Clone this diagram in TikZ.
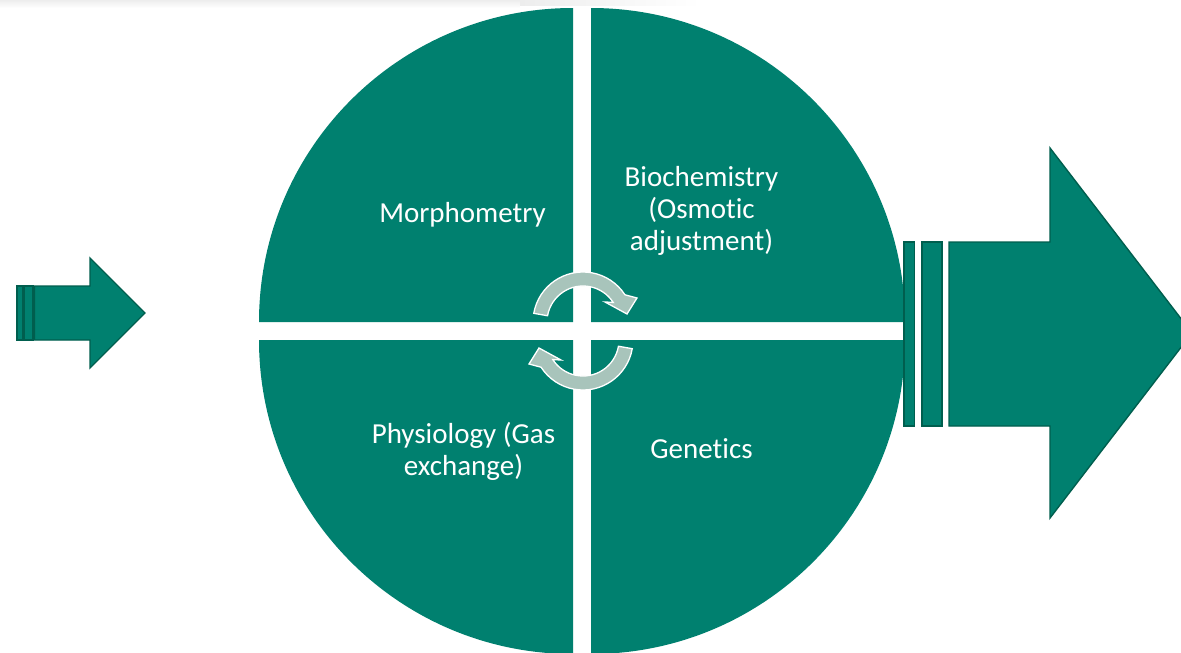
\documentclass[tikz,border=0pt]{standalone}
\usepackage{fontspec}
\setmainfont{Carlito}[Ligatures={NoCommon}]
\usetikzlibrary{fadings}
\definecolor{teal0}{RGB}{0,128,111}
\definecolor{tealedge}{RGB}{0,94,78}
\definecolor{cyclefill}{RGB}{168,196,187}
\tikzset{
  quad/.style={fill=teal0, draw=none},
  arrowpart/.style={fill=teal0, draw=tealedge, line width=1.4pt, line join=miter},
  cyclearrow/.style={fill=cyclefill, draw=white, line width=1.3pt},
  label/.style={text=white, align=center, anchor=base, inner sep=0pt,
                font=\fontsize{29}{32}\selectfont}
}
\begin{document}
\begin{tikzpicture}[x=1pt, y=-1pt]
  \useasboundingbox (0,0) rectangle (1181,653);
  \fill[white] (0,0) rectangle (1181,653);
  % faint shadow along the top edge, fading out downwards and to the right
  \fill[black, opacity=0.07, path fading=south] (0,0) rectangle (520,8);
  \fill[black, opacity=0.07, path fading=east] (520,0) rectangle (700,6);

  \begin{scope}
    \clip (0,0) rectangle (1181,653);
    % four quarter discs
    \fill[quad] (573,322) -- (259,322) arc[start angle=180, end angle=270, radius=314] -- cycle;
    \fill[quad] (591,322) -- (591,8) arc[start angle=270, end angle=360, radius=314] -- cycle;
    \fill[quad] (573,340) -- (573,654) arc[start angle=90, end angle=180, radius=314] -- cycle;
    \fill[quad] (591,340) -- (905,340) arc[start angle=0, end angle=90, radius=314] -- cycle;
  \end{scope}

  % input arrow on the left
  \draw[arrowpart] (17,286) rectangle (23,340);
  \draw[arrowpart] (24.5,286) rectangle (33,340);
  \draw[arrowpart] (34.5,286) -- (90,286) -- (90,258) -- (145,313)
                   -- (90,368) -- (90,340) -- (34.5,340) -- cycle;

  % output arrow on the right
  \draw[arrowpart] (904,242) rectangle (914.5,426);
  \draw[arrowpart] (922,242) rectangle (942,426);
  \draw[arrowpart] (949,242) -- (1050,242) -- (1050,148) -- (1192,333)
                   -- (1050,518) -- (1050,426) -- (949,426) -- cycle;

  % circular arrows in the centre
  \draw[cyclearrow] ([shift={(-170:50)}]583,322) arc[start angle=-170, end angle=-33, radius=50]
    -- (637,298) -- (627,314) -- (605,302)
    -- ([shift={(-33:36)}]583,322) arc[start angle=-33, end angle=-170, radius=36] -- cycle;
  \begin{scope}[rotate around={180:(583,331)}]
    \draw[cyclearrow] ([shift={(-170:50)}]583,322) arc[start angle=-170, end angle=-33, radius=50]
      -- (637,298) -- (627,314) -- (605,302)
      -- ([shift={(-33:36)}]583,322) arc[start angle=-33, end angle=-170, radius=36] -- cycle;
  \end{scope}

  % quadrant labels (base anchor sits on the last line)
  \node[label] (morph) at (462.5,222) {Morphometry};
  \node[label] (bio)   at (701.5,250) {Biochemistry\\(Osmotic\\adjustment)};
  \node[label] (phys)  at (463.5,475) {Physiology (Gas\\exchange)};
  \node[label] (gen)   at (701.5,458) {Genetics};
\end{tikzpicture}
\end{document}
